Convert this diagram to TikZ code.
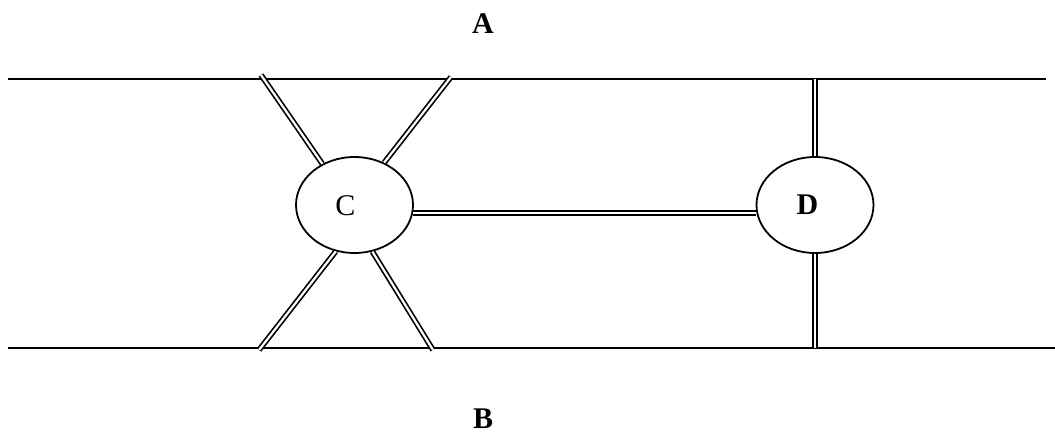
\documentclass[tikz,border=0pt]{standalone}
\usepackage{fontspec}
\setmainfont{Liberation Serif}
\usetikzlibrary{shapes.geometric}
\tikzset{
  rail/.style={line width=2pt},
  link/.style={double, line width=1.7pt, double distance=2.2pt},
  hub/.style={ellipse, draw, line width=1.8pt, minimum width=117pt, minimum height=96pt, inner sep=0pt, fill=white},
  lbl/.style={font=\fontsize{30}{32}\selectfont, inner sep=0pt}
}
\begin{document}
\begin{tikzpicture}[x=1pt,y=-1pt]
  \useasboundingbox (0,0) rectangle (1055,435);
  % two main rails
  \coordinate (tl) at (8,79);
  \coordinate (tr) at (1046,79);
  \coordinate (bl) at (8,348);
  \coordinate (br) at (1055,348);
  \draw[rail] (tl) -- (tr);
  \draw[rail] (bl) -- (br);
  % hubs
  \node[hub] (C) at (354.5,205) {};
  \node[hub] (D) at (815,205) {};
  \node[lbl] (Ct) at (345.5,206) {C};
  \node[lbl] (Dt) at (807.5,205) {\bfseries D};
  \node[lbl] (A) at (483,24) {\bfseries A};
  \node[lbl] (B) at (483,419) {\bfseries B};
  % rail attachment points
  \coordinate (c1) at (261,75);
  \coordinate (c2) at (451,77);
  \coordinate (c3) at (259,350);
  \coordinate (c4) at (433,350);
  \coordinate (d1) at (815,79);
  \coordinate (d2) at (815,348);
  % double links
  \draw[link] (C.128) -- (c1);
  \draw[link] (C.55) -- (c2);
  \draw[link] (C.248) -- (c3);
  \draw[link] (C.291) -- (c4);
  \draw[link] (C.-8) -- (D.188);
  \draw[link] (D.north) -- (d1);
  \draw[link] (D.south) -- (d2);
\end{tikzpicture}
\end{document}
